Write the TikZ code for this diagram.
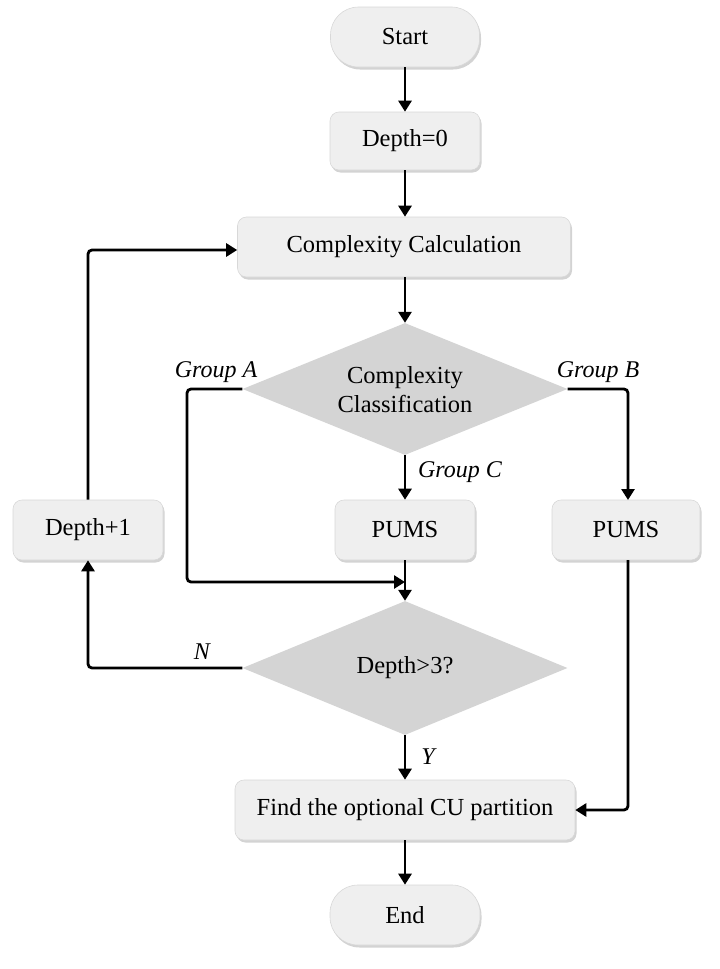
\documentclass[tikz,border=0pt]{standalone}
\usepackage{fontspec}
\setmainfont{Liberation Serif}
\usetikzlibrary{shapes.geometric,arrows.meta,shadows}
\definecolor{boxfill}{HTML}{EFEFEF}
\definecolor{boxline}{HTML}{D8D8D8}
\definecolor{diafill}{HTML}{D4D4D4}
\tikzset{
  base/.style={font=\fontsize{24.5}{29}\selectfont, inner sep=0pt},
  procbox/.style={base, rectangle, rounded corners=9pt, fill=boxfill, draw=boxline, line width=0.6pt,
     drop shadow={shadow xshift=1.5pt, shadow yshift=-2.5pt, opacity=0.35, fill=gray}},
  termbox/.style={procbox, rounded corners=28pt},
  decbox/.style={base, diamond, fill=diafill, align=center},
  conn/.style={line width=2.8pt, -{Triangle[length=11pt,width=13pt]}, rounded corners=4pt},
  lbl/.style={font=\fontsize{24}{28}\selectfont\itshape, inner sep=0pt}
}
\begin{document}
\begin{tikzpicture}[x=1pt,y=-1pt]
\useasboundingbox (0,0) rectangle (720,969);
\node[termbox, minimum width=149pt, minimum height=60pt] (start) at (405,37) {Start};
\node[procbox, minimum width=150pt, minimum height=58pt] (d0) at (405,141) {Depth=0};
\node[procbox, minimum width=333pt, minimum height=60pt] (cc) at (404,247) {Complexity Calculation};
\node[decbox, minimum width=325pt, minimum height=132pt] (cls) at (405,389) {};
\node[base, align=center] (clstext) at (405,390) {Complexity\\Classification};
\node[procbox, minimum width=140pt, minimum height=60pt] (pc) at (405,530) {PUMS};
\node[procbox, minimum width=148pt, minimum height=60pt] (pb) at (626,530) {PUMS};
\node[procbox, minimum width=150pt, minimum height=60pt] (dp1) at (88,530) {Depth+1};
\node[decbox, minimum width=325pt, minimum height=134pt] (chk) at (405,668) {Depth>3?};
\node[procbox, minimum width=340pt, minimum height=60pt] (find) at (405,810) {Find the optional CU partition};
\node[termbox, minimum width=150pt, minimum height=60pt] (end) at (405,915) {End};

\coordinate (j) at (405,582);

\draw[conn] (start) -- (d0);
\draw[conn] (d0) -- (d0 |- cc.north);
\draw[conn] (cls.north |- cc.south) -- (cls.north);
\draw[conn] (cls.south) -- (pc.north);
\draw[conn] (cls.west) -- (187,389) -- (187,582) -- (j);
\draw[conn] (cls.east) -- (628,389) -- (628,500);
\draw[conn] (pc.south) -- (chk.north);
\draw[conn] (chk.west) -- (88,668) -- (dp1.south);
\draw[conn] (dp1.north) -- (88,250) -- (cc.west |- 0,250);
\draw[conn] (chk.south) -- (find.north);
\draw[conn] (628,560) -- (628,810) -- (find.east);
\draw[conn] (find) -- (end);

\node[lbl] (la) at (216,372) {Group A};
\node[lbl] (lb) at (598,372) {Group B};
\node[lbl] (lc) at (460,472) {Group C};
\node[lbl] (ln) at (202,652) {N};
\node[lbl] (ly) at (428,757) {Y};
\end{tikzpicture}
\end{document}
